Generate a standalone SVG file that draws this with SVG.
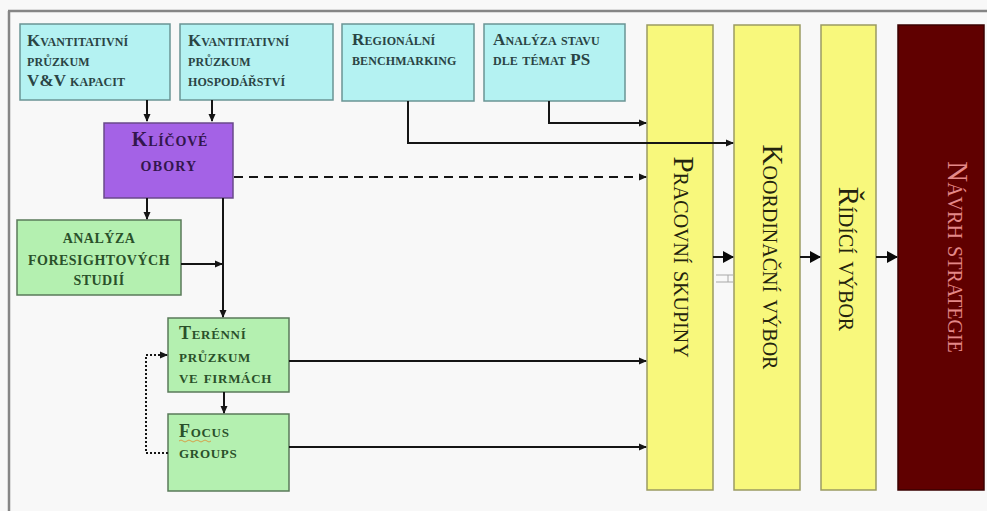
<svg xmlns="http://www.w3.org/2000/svg" width="987" height="511" viewBox="0 0 987 511">
<defs>
<style>
.t{font-family:"Liberation Serif","Times New Roman",serif;font-variant:small-caps;}
.b{font-weight:bold;}
.cy{fill:#b4f2f2;stroke:#6a9494;stroke-width:1.5;}
.gr{fill:#b4f0b0;stroke:#5a7a5a;stroke-width:1.5;}
.pu{fill:#a462e6;stroke:#6a4a8a;stroke-width:1.5;}
.ye{fill:#f8f87c;stroke:#9a9a62;stroke-width:1.5;}
.tc{fill:#2a4444;font-size:17px;letter-spacing:0.1px;}
.tg{fill:#2a502a;}
.ln{fill:none;stroke:#151515;stroke-width:2;}
.vt{font-size:29px;}
</style>
<marker id="ah" markerUnits="userSpaceOnUse" markerWidth="8" markerHeight="8" refX="7" refY="4" orient="auto">
<path d="M0,0.5 L8,4 L0,7.5 z" fill="#151515"/>
</marker>
<marker id="ahb" markerUnits="userSpaceOnUse" markerWidth="11" markerHeight="12" refX="10" refY="6" orient="auto">
<path d="M0,0 L11,6 L0,12 z" fill="#0a0a0a"/>
</marker>
</defs>
<rect width="987" height="511" fill="#f8f8f8"/>
<path d="M8,11 H987 M9,11 V511" fill="none" stroke="#858585" stroke-width="2.5"/>

<g id="kvant-vv">
<rect class="cy" x="20" y="24" width="150" height="76"/>
<text class="t b tc" x="27" y="46">Kvantitativní</text>
<text class="t b tc" x="27" y="66">průzkum</text>
<text class="t b tc" x="27" y="86">V&amp;V kapacit</text>
</g>
<g id="kvant-hosp">
<rect class="cy" x="180" y="24" width="153" height="76"/>
<text class="t b tc" x="188" y="46">Kvantitativní</text>
<text class="t b tc" x="188" y="66">průzkum</text>
<text class="t b tc" x="188" y="86">hospodářství</text>
</g>
<g id="regional">
<rect class="cy" x="342" y="24" width="132" height="77"/>
<text class="t b tc" x="352" y="45">Regionální</text>
<text class="t b tc" x="352" y="65">benchmarking</text>
</g>
<g id="analyza-stavu">
<rect class="cy" x="484" y="24" width="141" height="77"/>
<text class="t b tc" x="493" y="45">Analýza stavu</text>
<text class="t b tc" x="493" y="65">dle témat PS</text>
</g>
<g id="klicove">
<rect class="pu" x="104" y="123" width="129" height="75"/>
<text class="t b" x="170" y="146" text-anchor="middle" font-size="20" letter-spacing="0.8" fill="#33164d">Klíčové</text>
<text class="t b" x="169" y="171" text-anchor="middle" font-size="20" letter-spacing="1.2" fill="#33164d">obory</text>
</g>
<g id="foresight">
<rect class="gr" x="17" y="220" width="164" height="75"/>
<text class="t b tg" x="99" y="243" text-anchor="middle" font-size="20" letter-spacing="0.5">analýza</text>
<text class="t b tg" x="99" y="265" text-anchor="middle" font-size="20" letter-spacing="0.5">foresightových</text>
<text class="t b tg" x="99" y="285" text-anchor="middle" font-size="20" letter-spacing="0.5">studií</text>
</g>
<g id="terenni">
<rect class="gr" x="168" y="318" width="121" height="74"/>
<text class="t b tg" x="179" y="339" font-size="18" letter-spacing="0.7">Terénní</text>
<text class="t b tg" x="179" y="362" font-size="18" letter-spacing="0.7">průzkum</text>
<text class="t b tg" x="179" y="383" font-size="18" letter-spacing="0.7">ve firmách</text>
</g>
<g id="focus">
<rect class="gr" x="168" y="414" width="121" height="77"/>
<text class="t b tg" x="179" y="437" font-size="18" letter-spacing="0.7">Focus</text>
<path d="M179,441 q2,-2 4,0 t4,0 t4,0 t4,0 t4,0 t4,0 t4,0 t4,0" fill="none" stroke="#d6a24a" stroke-width="1"/>
<text class="t b tg" x="179" y="458" font-size="18" letter-spacing="0.7">groups</text>
</g>
<g id="pracovni">
<rect class="ye" x="647" y="25" width="66" height="465"/>
<text class="t vt" transform="translate(674,257) rotate(90)" text-anchor="middle" fill="#24240e">Pracovní skupiny</text>
</g>
<g id="koordinacni">
<rect class="ye" x="734" y="25" width="66" height="465"/>
<text class="t vt" transform="translate(763,257) rotate(90)" text-anchor="middle" fill="#24240e">Koordinační výbor</text>
</g>
<g id="ridici">
<rect class="ye" x="821" y="25" width="55" height="465"/>
<text class="t vt" transform="translate(839,259) rotate(90)" text-anchor="middle" fill="#24240e">Řídící výbor</text>
</g>
<g id="navrh">
<rect x="898" y="25" width="86" height="465" fill="#600000" stroke="#3a0000" stroke-width="1.5"/>
<text class="t vt" transform="translate(948,257) rotate(90)" text-anchor="middle" fill="#e48888">Návrh strategie</text>
</g>

<g id="connectors">
<path class="ln" d="M147,100 V121" marker-end="url(#ah)"/>
<path class="ln" d="M212,100 V121" marker-end="url(#ah)"/>
<path class="ln" d="M549,101 V123 H646" marker-end="url(#ah)"/>
<path class="ln" d="M408,101 V143 H733" marker-end="url(#ah)"/>
<path class="ln" d="M234,177 H646" stroke-dasharray="9,6" stroke-width="2.5" marker-end="url(#ah)"/>
<path class="ln" d="M147,198 V219" marker-end="url(#ah)"/>
<path class="ln" d="M223,198 V317" marker-end="url(#ah)"/>
<path class="ln" d="M181,264 H222" marker-end="url(#ah)"/>
<path class="ln" d="M224,392 V413" marker-end="url(#ah)"/>
<path class="ln" d="M168,453 H146 V355 H167" stroke-dasharray="2,2" marker-end="url(#ah)"/>
<path class="ln" d="M289,361 H646" marker-end="url(#ah)"/>
<path class="ln" d="M289,447 H646" marker-end="url(#ah)"/>
<path class="ln" d="M713,257 H733" stroke-width="5" marker-end="url(#ahb)"/>
<path class="ln" d="M800,257 H820" stroke-width="5" marker-end="url(#ahb)"/>
<path class="ln" d="M876,257 H897" stroke-width="5" marker-end="url(#ahb)"/>
<path d="M716,275 H733 M716,282 H733 M728,275 V282" fill="none" stroke="#a8a8a8" stroke-width="1"/>
</g>
</svg>
